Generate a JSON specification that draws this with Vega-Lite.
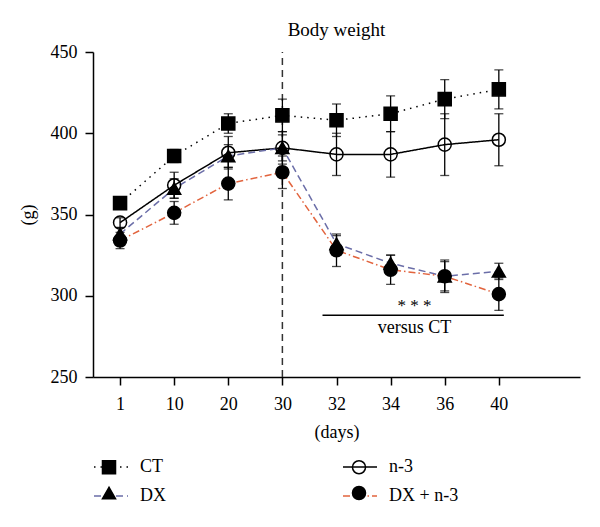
{
  "$schema": "https://vega.github.io/schema/vega-lite/v6.json",
  "width": 487,
  "height": 325,
  "autosize": {"type": "none"},
  "padding": {"left": 93, "top": 52, "right": 20, "bottom": 150},
  "config": {
    "font": "Liberation Serif",
    "view": {"stroke": null},
    "axis": {"domainColor": "black", "tickColor": "black", "labelColor": "black", "titleColor": "black", "labelFontSize": 18, "titleFontSize": 18, "titleFontWeight": "normal", "grid": false, "tickSize": 8, "domainWidth": 1.5, "tickWidth": 1.5, "labelFont": "Liberation Serif", "titleFont": "Liberation Serif"},
    "legend": {"labelFont": "Liberation Serif", "labelFontSize": 18, "labelColor": "black"}
  },
  "title": {"text": "Body weight", "fontSize": 19, "fontWeight": "normal", "font": "Liberation Serif", "offset": 3, "anchor": "middle", "color": "black"},
  "data": {
    "values": [
      {"day": "1", "series": "CT", "w": 357, "sd": 3},
      {"day": "10", "series": "CT", "w": 386, "sd": 4},
      {"day": "20", "series": "CT", "w": 406, "sd": 6},
      {"day": "30", "series": "CT", "w": 411, "sd": 10},
      {"day": "32", "series": "CT", "w": 408, "sd": 10},
      {"day": "34", "series": "CT", "w": 412, "sd": 11},
      {"day": "36", "series": "CT", "w": 421, "sd": 12},
      {"day": "40", "series": "CT", "w": 427, "sd": 12},
      {"day": "1", "series": "n-3", "w": 345, "sd": 3},
      {"day": "10", "series": "n-3", "w": 368, "sd": 8},
      {"day": "20", "series": "n-3", "w": 388, "sd": 10},
      {"day": "30", "series": "n-3", "w": 391, "sd": 10},
      {"day": "32", "series": "n-3", "w": 387, "sd": 13},
      {"day": "34", "series": "n-3", "w": 387, "sd": 14},
      {"day": "36", "series": "n-3", "w": 393, "sd": 19},
      {"day": "40", "series": "n-3", "w": 396, "sd": 16},
      {"day": "1", "series": "DX", "w": 338, "sd": 4},
      {"day": "10", "series": "DX", "w": 366, "sd": 6},
      {"day": "20", "series": "DX", "w": 386, "sd": 7},
      {"day": "30", "series": "DX", "w": 391, "sd": 8},
      {"day": "32", "series": "DX", "w": 332, "sd": 5},
      {"day": "34", "series": "DX", "w": 320, "sd": 5},
      {"day": "36", "series": "DX", "w": 312, "sd": 9},
      {"day": "40", "series": "DX", "w": 315, "sd": 5},
      {"day": "1", "series": "DX + n-3", "w": 334, "sd": 5},
      {"day": "10", "series": "DX + n-3", "w": 351, "sd": 7},
      {"day": "20", "series": "DX + n-3", "w": 369, "sd": 10},
      {"day": "30", "series": "DX + n-3", "w": 376, "sd": 10},
      {"day": "32", "series": "DX + n-3", "w": 328, "sd": 10},
      {"day": "34", "series": "DX + n-3", "w": 316, "sd": 9},
      {"day": "36", "series": "DX + n-3", "w": 312, "sd": 10},
      {"day": "40", "series": "DX + n-3", "w": 301, "sd": 10}
    ]
  },
  "encoding": {
    "x": {
      "field": "day", "type": "ordinal",
      "scale": {"type": "point", "domain": ["1", "10", "20", "30", "32", "34", "36", "40", "_"], "padding": 0.5},
      "axis": {"title": "(days)", "values": ["1", "10", "20", "30", "32", "34", "36", "40"], "labelAngle": 0, "labelPadding": 10, "titlePadding": 10}
    },
    "y": {
      "field": "w", "type": "quantitative",
      "scale": {"domain": [250, 450], "nice": false, "zero": false},
      "axis": {"title": "(g)", "values": [250, 300, 350, 400, 450], "labelPadding": 8, "titlePadding": 13}
    }
  },
  "layer": [
    {
      "transform": [{"filter": "datum.series === 'CT' && datum.day === '40'"}],
      "mark": {"type": "rule", "strokeDash": [7, 5], "strokeWidth": 1.5, "color": "#333333"},
      "encoding": {"x": {"datum": "30", "type": "ordinal"}, "y": {"datum": 250}, "y2": {"datum": 450}}
    },
    {
      "mark": {"type": "errorbar", "ticks": {"size": 9, "thickness": 1.3, "color": "black"}, "rule": {"strokeWidth": 1.3, "color": "black"}, "color": "black"},
      "encoding": {"yError": {"field": "sd"}}
    },
    {
      "mark": {"type": "line", "strokeWidth": 1.5},
      "encoding": {
        "color": {"field": "series", "type": "nominal", "scale": {"domain": ["CT", "DX", "n-3", "DX + n-3"], "range": ["black", "#6b6ea8", "black", "#e2643e"]},
          "legend": {"orient": "none", "legendX": 0, "legendY": 397, "title": null, "columns": 2, "columnPadding": 174, "rowPadding": 2, "symbolSize": 1156, "symbolStrokeWidth": 1.5, "labelOffset": 11, "symbolType": "stroke"}},
        "strokeDash": {"field": "series", "type": "nominal", "scale": {"domain": ["CT", "DX", "n-3", "DX + n-3"], "range": [[1.5, 5], [7, 4], [1, 0], [7, 3, 1.5, 3]]},
          "legend": {"orient": "none", "legendX": 0, "legendY": 397, "title": null, "columns": 2, "columnPadding": 174, "rowPadding": 2, "symbolSize": 1156, "symbolStrokeWidth": 1.5, "labelOffset": 11, "symbolType": "stroke"}}
      }
    },
    {
      "mark": {"type": "point", "filled": true, "strokeWidth": 1.5, "opacity": 1, "size": 170},
      "encoding": {
        "shape": {"field": "series", "type": "nominal", "scale": {"domain": ["CT", "DX", "n-3", "DX + n-3"], "range": ["square", "triangle-up", "circle", "circle"]},
          "legend": {"orient": "none", "legendX": 7, "legendY": 406, "title": null, "columns": 2, "columnPadding": 230, "rowPadding": 6, "symbolSize": 170, "symbolStrokeWidth": 1.5, "labelOffset": 0, "labelExpr": "''"}},
        "fill": {"field": "series", "type": "nominal", "scale": {"domain": ["CT", "DX", "n-3", "DX + n-3"], "range": ["black", "black", "transparent", "black"]},
          "legend": {"orient": "none", "legendX": 7, "legendY": 406, "title": null, "columns": 2, "columnPadding": 230, "rowPadding": 6, "symbolSize": 170, "symbolStrokeWidth": 1.5, "labelOffset": 0, "labelExpr": "''"}},
        "stroke": {"field": "series", "type": "nominal", "scale": {"domain": ["CT", "DX", "n-3", "DX + n-3"], "range": ["black", "black", "black", "black"]},
          "legend": {"orient": "none", "legendX": 7, "legendY": 406, "title": null, "columns": 2, "columnPadding": 230, "rowPadding": 6, "symbolSize": 170, "symbolStrokeWidth": 1.5, "labelOffset": 0, "labelExpr": "''"}}
      }
    },
    {
      "transform": [{"filter": "datum.series === 'CT' && datum.day === '40'"}],
      "mark": {"type": "rule", "strokeWidth": 1.3, "color": "black", "xOffset": -14, "x2Offset": 5},
      "encoding": {"x": {"datum": "32", "type": "ordinal"}, "x2": {"datum": "40"}, "y": {"datum": 288}}
    },
    {
      "transform": [{"filter": "datum.series === 'CT' && datum.day === '40'"}],
      "mark": {"type": "text", "fontSize": 17, "xOffset": 24, "color": "black", "font": "Liberation Serif"},
      "encoding": {"x": {"datum": "34", "type": "ordinal"}, "y": {"datum": 294}, "text": {"value": "* * *"}}
    },
    {
      "transform": [{"filter": "datum.series === 'CT' && datum.day === '40'"}],
      "mark": {"type": "text", "fontSize": 18, "xOffset": 24, "color": "black", "font": "Liberation Serif"},
      "encoding": {"x": {"datum": "34", "type": "ordinal"}, "y": {"datum": 280}, "text": {"value": "versus CT"}}
    }
  ],
  "resolve": {"legend": {"color": "independent", "strokeDash": "independent", "shape": "independent", "fill": "independent", "stroke": "independent"}}
}
